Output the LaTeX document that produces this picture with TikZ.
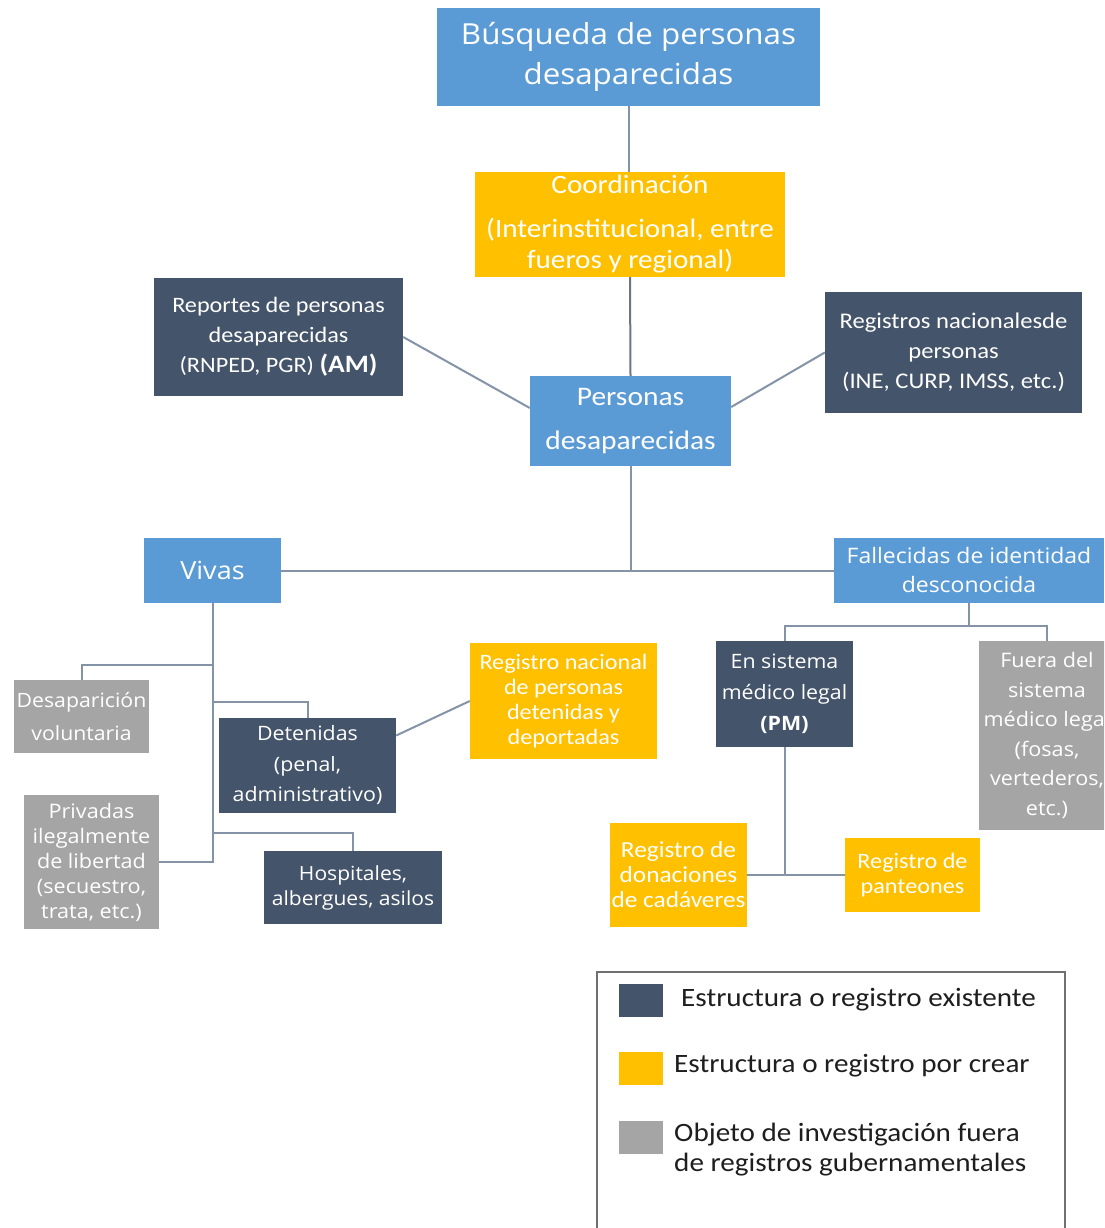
\documentclass[tikz,border=0pt]{standalone}
\usepackage{fontspec}
\setmainfont[FakeStretch=1.1]{Carlito}
\newfontfamily\seg[FakeStretch=1.08]{Open Sans}
\usetikzlibrary{calc}
\definecolor{cblue}{HTML}{5B9BD5}
\definecolor{cyel}{HTML}{FFC000}
\definecolor{cdark}{HTML}{44546A}
\definecolor{cgray}{HTML}{A5A5A5}
\definecolor{cline}{RGB}{132,148,166}
\definecolor{clegend}{HTML}{707070}
\begin{document}
\begin{tikzpicture}[x=1pt,y=-1pt,
  box/.style={rectangle, inner sep=0pt, align=center, text=white},
  conn/.style={draw=cline, line width=2pt},
  swatch/.style={rectangle, inner sep=0pt, minimum width=44pt, minimum height=33pt},
  legtext/.style={inner sep=0pt, anchor=west, align=left, text={rgb,255:red,30;green,30;blue,30}, font=\fontsize{26.5}{30}\selectfont}]
\clip (0,0) rectangle (1104,1228);
\fill[white] (0,0) rectangle (1104,1228);

% boxes
\node[box, fill=cblue, minimum width=383pt, minimum height=98pt, font=\seg\fontsize{29}{40}\selectfont] (title) at (628.5,57) {Búsqueda de personas\\desaparecidas};
\node[box, fill=cyel, minimum width=310pt, minimum height=105pt, font=\fontsize{26.5}{31}\selectfont] (coord) at (630,224.5) {Coordinación\\[13pt](Interinstitucional, entre\\fueros y regional)};
\node[box, fill=cdark, minimum width=249pt, minimum height=118pt, font=\fontsize{22}{30}\selectfont] (report) at (278.5,337) {Reportes de personas\\desaparecidas\\(RNPED, PGR) {\fontsize{25}{30}\selectfont\bfseries(AM)}};
\node[box, fill=cdark, minimum width=257pt, minimum height=121pt, font=\fontsize{22.4}{30}\selectfont] (regnac) at (953.5,352.5) {Registros nacionalesde\\personas\\(INE, CURP, IMSS, etc.)};
\node[box, fill=cblue, minimum width=201pt, minimum height=90pt, font=\fontsize{26.8}{44}\selectfont] (personas) at (630.5,421) {Personas\\desaparecidas};
\node[box, fill=cblue, minimum width=137pt, minimum height=65pt, font=\seg\fontsize{25}{29}\selectfont] (vivas) at (212.5,570.5) {Vivas};
\node[box, fill=cblue, minimum width=270pt, minimum height=65pt, font=\seg\fontsize{21.3}{29}\selectfont] (fallec) at (969,570.5) {Fallecidas de identidad\\desconocida};
\node[box, fill=cgray, minimum width=135pt, minimum height=73pt, font=\seg\fontsize{19.7}{33}\selectfont] (desap) at (81.5,716.5) {Desaparición\\voluntaria};
\node[box, fill=cdark, minimum width=177pt, minimum height=95pt, font=\seg\fontsize{19.8}{30.5}\selectfont] (deten) at (307.5,765.5) {Detenidas\\(penal,\\administrativo)};
\node[box, fill=cyel, minimum width=187pt, minimum height=116pt, font=\fontsize{22}{25}\selectfont] (regdet) at (563.5,701) {Registro nacional\\de personas\\detenidas y\\deportadas};
\node[box, fill=cgray, minimum width=135pt, minimum height=134pt, font=\seg\fontsize{20}{25}\selectfont] (privadas) at (91.5,862) {Privadas\\ilegalmente\\de libertad\\(secuestro,\\trata, etc.)};
\node[box, fill=cdark, minimum width=178pt, minimum height=73pt, font=\seg\fontsize{19.5}{25}\selectfont] (hosp) at (353,887.5) {Hospitales,\\albergues, asilos};
\node[box, fill=cdark, minimum width=137pt, minimum height=106pt, font=\seg\fontsize{19.8}{31}\selectfont] (ensis) at (784.5,694) {En sistema\\médico legal\\\textbf{(PM)}};
\node[box, fill=cgray, minimum width=136pt, minimum height=189pt, font=\seg\fontsize{20}{29.5}\selectfont] (fuera) at (1047,735.5) {Fuera del\\sistema\\médico legal\\(fosas,\\vertederos,\\etc.)};
\node[box, fill=cyel, minimum width=137pt, minimum height=104pt, font=\fontsize{23}{25}\selectfont] (donac) at (678.5,875) {Registro de\\donaciones\\de cadáveres};
\node[box, fill=cyel, minimum width=135pt, minimum height=74pt, font=\fontsize{22}{25}\selectfont] (pant) at (912.5,875) {Registro de\\panteones};

% connectors
\draw[conn] (title.south) -- (title.south |- coord.north);
\draw[conn, draw=cdark!80] (coord.south) -- (personas.north);
\draw[conn] (report.east) -- ($(personas.west)+(0,-13)$);
\draw[conn] (regnac.west) -- ($(personas.east)+(0,-14)$);
\draw[conn] (personas.south) -- (personas.south |- vivas.east);
\draw[conn] (vivas.east) -- (fallec.west);
\draw[conn] (vivas.south) |- (privadas.east);
\draw[conn] (desap.north) |- ($(vivas.south)+(0,62)$);
\draw[conn] (deten.north) |- ($(vivas.south)+(0,99)$);
\draw[conn] (hosp.north) |- ($(vivas.south)+(0,230)$);
\draw[conn] ($(deten.east)+(0,-30)$) -- (regdet.west);
\draw[conn] (fallec.south) -- ++(0,23);
\draw[conn] (ensis.north) -- ++(0,-15) -| (fuera.north);
\draw[conn] (ensis.south) -- (ensis.south |- donac.east);
\draw[conn] (donac.east) -- (pant.west);

% legend
\draw[draw=clegend, line width=1.5pt] (597,972) rectangle (1065,1240);
\node[swatch, fill=cdark] (s1) at (641,1000.5) {};
\node[swatch, fill=cyel] (s2) at (641,1068.5) {};
\node[swatch, fill=cgray] (s3) at (641,1137) {};
\node[legtext] (l1) at (681,1000) {Estructura o registro existente};
\node[legtext] (l2) at (674,1066) {Estructura o registro por crear};
\node[legtext] (l3) at (674,1150) {Objeto de investigación fuera\\de registros gubernamentales};
\end{tikzpicture}
\end{document}
